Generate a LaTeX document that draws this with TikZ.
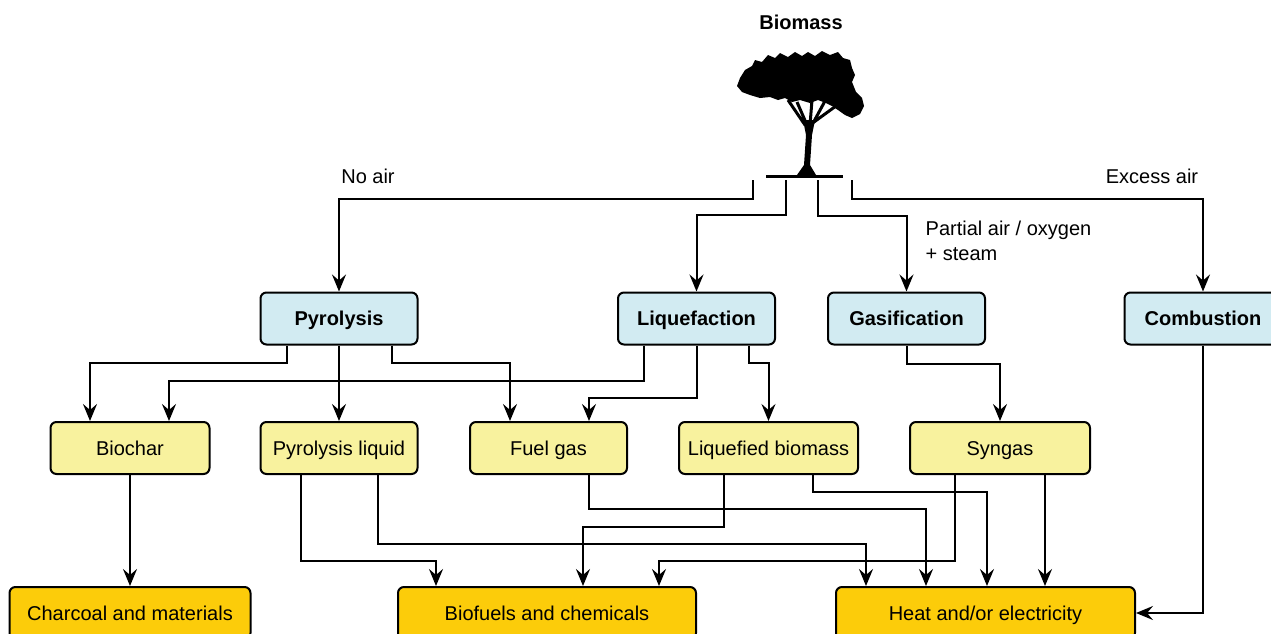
\documentclass[tikz,border=0pt]{standalone}
\usepackage{fontspec}
\setmainfont{Liberation Sans}
\usetikzlibrary{arrows.meta}
\definecolor{procblue}{RGB}{210,235,242}
\definecolor{prodyellow}{RGB}{248,242,158}
\definecolor{endgold}{RGB}{252,204,10}

\begin{document}
\begin{tikzpicture}[->,>={Stealth[length=8.5pt,width=7pt,inset=3pt]},line width=1pt,x=0.5pt,y=-0.5pt,
    box/.style={draw, rounded corners=3pt, minimum height=26pt, inner sep=0pt,
      text height=7.2pt, text depth=0pt},
    proc/.style={box, fill=procblue, minimum width=78.5pt, font=\bfseries},
    prod/.style={box, fill=prodyellow},
    outp/.style={box, fill=endgold}]
      \path[use as bounding box, clip] (0,0) rectangle (1271,633);

      % Biomass tree
        \node[font=\bfseries] (biomass) at (801,22) {Biomass};
        \begin{scope}[-]
        \fill (740,78) -- (745,70) -- (752,66) -- (755,60) -- (762,62) -- (768,55) -- (775,58)
          -- (780,53) -- (788,57) -- (795,52) -- (802,56) -- (808,52) -- (815,56) -- (822,51)
          -- (830,55) -- (838,52) -- (843,58) -- (850,60) -- (852,68) -- (855,75) -- (852,82)
          -- (856,92) -- (862,98) -- (864,106) -- (860,114) -- (852,118) -- (845,115)
          -- (838,110) -- (832,106) -- (826,103) -- (818,100) -- (810,103) -- (800,100)
          -- (792,102) -- (785,98) -- (778,100) -- (770,97) -- (760,98) -- (750,95)
          -- (742,92) -- (737,86) -- cycle;
        \fill (803,120) -- (806,135) -- (805,150) -- (804,165) -- (797,175) -- (816,175)
          -- (810,165) -- (811,150) -- (812,135) -- (815,120) -- cycle;
        \draw[line width=1.5pt] (805,125) -- (788,100) (807,125) -- (797,102)
          (810,125) -- (812,100) (812,125) -- (825,101) (814,122) -- (836,106);
        \draw[line width=1.2pt] (766,176.5) -- (843,176.5);
        \end{scope}
        \coordinate (soil) at (802,180);

        % Processes
        \node[proc] (pyro) at (339,318.5) {Pyrolysis};
        \node[proc] (liq) at (696.5,318.5) {Liquefaction};
        \node[proc] (gas) at (906.5,318.5) {Gasification};
        \node[proc] (comb) at (1203,318.5) {Combustion};

        % Intermediate products
        \node[prod, minimum width=79.5pt] (bchar) at (130,448) {Biochar};
        \node[prod, minimum width=78.5pt] (pliq) at (339,448) {Pyrolysis liquid};
        \node[prod, minimum width=78.5pt] (fgas) at (548.5,448) {Fuel gas};
        \node[prod, minimum width=89.5pt] (lbio) at (768.5,448) {Liquefied biomass};
        \node[prod, minimum width=90pt] (syn) at (1000,448) {Syngas};

        % End uses
        \node[outp, minimum width=120.5pt] (charc) at (130,613) {Charcoal and materials};
        \node[outp, minimum width=149pt] (biof) at (547,613) {Biofuels and chemicals};
        \node[outp, minimum width=149.5pt] (heat) at (985.5,613) {Heat and/or electricity};

        % Conditions
        \node (noair) at (368,176) {No air};
        \node[anchor=west, align=left, font=\fontsize{10}{12.5}\selectfont] (partial)
          at (918,240.5) {Partial air / oxygen\\+ steam};
        \node (excess) at (1152,176) {Excess air};

        \draw [->] ([xshift=-24.5pt]soil) -- ++(0,19) -| (pyro);
        \draw [->] ([xshift=-8pt]soil) -- ++(0,35) -| (liq);
        \draw [->] ([xshift=8pt]soil) -- ++(0,36) -| (gas);
        \draw [->] ([xshift=25pt]soil) -- ++(0,19) -| (comb);

        \draw [->] ([xshift=-26pt]pyro.south) -- ++(0,17) -| ([xshift=-20pt]bchar.north);
        \draw [->] (pyro) -- (pliq);
        \draw [->] ([xshift=26.5pt]pyro.south) -- ++(0,17) -| ([xshift=-19.25pt]fgas.north);
        \draw [->] ([xshift=-26.25pt]liq.south) -- ++(0,35) -| ([xshift=19.5pt]bchar.north);
        \draw [->] (liq.south) -- ++(0,52) -| ([xshift=20.25pt]fgas.north);
        \draw [->] ([xshift=26.25pt]liq.south) -- ++(0,17) -| (lbio);
        \draw [->] (gas.south) -- ++(0,18) -| (syn);

        \draw [->] (bchar) -- (charc);
        \draw [->] ([xshift=-19pt]pliq.south) -- ++(0,86) -| ([xshift=-55.5pt]biof.north);
        \draw [->] ([xshift=19.5pt]pliq.south) -- ++(0,69) -| ([xshift=-59.75pt]heat.north);
        \draw [->] ([xshift=20.25pt]fgas.south) -- ++(0,34) -| ([xshift=-29.75pt]heat.north);
        \draw [->] ([xshift=-22.25pt]lbio.south) -- ++(0,52) -| ([xshift=18pt]biof.north);
        \draw [->] ([xshift=22.25pt]lbio.south) -- ++(0,17) -| ([xshift=0.75pt]heat.north);
        \draw [->] ([xshift=-22.5pt]syn.south) -- ++(0,86) -| ([xshift=56pt]biof.north);
        \draw [->] ([xshift=22.5pt]syn.south) -- ([xshift=29.75pt]heat.north);
        \draw [->] (comb) |- (heat);

    \end{tikzpicture}
\end{document}
